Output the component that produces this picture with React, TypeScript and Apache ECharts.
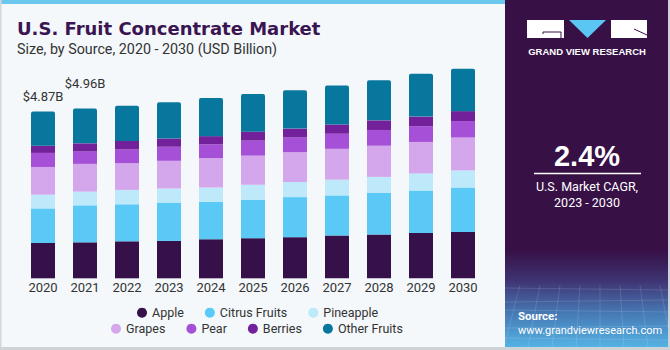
import React, { useEffect, useRef } from 'react';
import * as echarts from 'echarts';

const years = ['2020', '2021', '2022', '2023', '2024', '2025', '2026', '2027', '2028', '2029', '2030'];
const apple = [1.03, 1.05, 1.08, 1.09, 1.14, 1.17, 1.2, 1.25, 1.28, 1.32, 1.35];
const citrusFruits = [1.01, 1.08, 1.08, 1.12, 1.09, 1.12, 1.17, 1.17, 1.21, 1.24, 1.3];
const pineapple = [0.4, 0.4, 0.42, 0.41, 0.42, 0.44, 0.44, 0.46, 0.47, 0.5, 0.5];
const grapes = [0.81, 0.81, 0.78, 0.81, 0.86, 0.85, 0.87, 0.9, 0.91, 0.92, 0.96];
const pear = [0.41, 0.36, 0.4, 0.41, 0.4, 0.44, 0.43, 0.44, 0.46, 0.46, 0.48];
const berries = [0.21, 0.24, 0.25, 0.24, 0.24, 0.26, 0.26, 0.27, 0.28, 0.28, 0.29];
const otherFruits = [1.0, 1.02, 1.03, 1.06, 1.11, 1.1, 1.12, 1.14, 1.17, 1.25, 1.24];
const totalLabels = ['$4.87B', '$4.96B'];
const labelGaps = [8, 18];

const seriesDefs = [
  { name: 'Apple', data: apple, color: '#361049' },
  { name: 'Citrus Fruits', data: citrusFruits, color: '#5bc9f6' },
  { name: 'Pineapple', data: pineapple, color: '#bde9fa' },
  { name: 'Grapes', data: grapes, color: '#d4a7ed' },
  { name: 'Pear', data: pear, color: '#a64fd7' },
  { name: 'Berries', data: berries, color: '#73209b' },
  { name: 'Other Fruits', data: otherFruits, color: '#08779d' },
];

const FONT = 'Roboto, "Liberation Sans", Arial, sans-serif';

export default function App() {
  const ref = useRef<HTMLDivElement>(null);
  useEffect(() => {
    if (!ref.current) return;
    const chart = echarts.init(ref.current, undefined, { renderer: 'svg' });
    const last = seriesDefs.length - 1;
    const series = seriesDefs.map((s, si) => ({
      name: s.name,
      type: 'bar',
      stack: 'total',
      barWidth: 24,
      itemStyle: { color: s.color, borderRadius: si === last ? [2, 2, 0, 0] : 0 },
      data: s.data.map((v, i) => {
        if (si === last && i < totalLabels.length) {
          return {
            value: v,
            label: {
              show: true,
              position: 'top',
              distance: labelGaps[i],
              formatter: totalLabels[i],
              color: '#333333',
              fontSize: 13,
              fontFamily: FONT,
            },
          };
        }
        return v;
      }),
      z: 2,
    }));

    const legendCommon = {
      icon: 'circle',
      itemWidth: 10,
      itemHeight: 10,
      itemGap: 21,
      padding: 0,
      selectedMode: false,
      textStyle: { color: '#333333', fontSize: 12.5, fontFamily: FONT, lineHeight: 14 },
    };

    const option: any = {
      animation: false,
      backgroundColor: '#f4f8fb',
      grid: { left: 22, right: 186, top: 38.5, bottom: 71.7 },
      xAxis: {
        type: 'category',
        data: years,
        axisLine: { show: false },
        axisTick: { show: false },
        axisLabel: { color: '#333333', fontSize: 13, fontFamily: FONT, margin: 3 },
      },
      yAxis: { type: 'value', min: 0, max: 7, show: false },
      legend: [
        { ...legendCommon, left: 137, top: 305.7, data: ['Apple', 'Citrus Fruits', 'Pineapple'] },
        { ...legendCommon, left: 111, top: 321.7, data: ['Grapes', 'Pear', 'Berries', 'Other Fruits'] },
      ],
      series,
      graphic: [
        // frame
        { type: 'rect', shape: { x: 0, y: 0, width: 505, height: 4 }, style: { fill: '#6cc7ee' }, z: 10 },
        { type: 'rect', shape: { x: 0, y: 0, width: 1.5, height: 350 }, style: { fill: '#d3d6da' }, z: 10 },
        { type: 'rect', shape: { x: 0, y: 347, width: 670, height: 3 }, style: { fill: '#cfd2d6' }, z: 10 },
        { type: 'rect', shape: { x: 668, y: 0, width: 2, height: 350 }, style: { fill: '#cfd2d6' }, z: 10 },
        // right panel
        { type: 'rect', shape: { x: 505, y: 0, width: 163, height: 347 }, style: { fill: '#371046' }, z: 5 },
        {
          type: 'rect',
          shape: { x: 505, y: 250, width: 163, height: 97 },
          style: {
            fill: new echarts.graphic.LinearGradient(0, 0, 0, 1, [
              { offset: 0, color: '#371046' },
              { offset: 0.32, color: '#3f3473' },
              { offset: 0.65, color: '#4679b5' },
              { offset: 1, color: '#55b2e3' },
            ]),
          },
          z: 6,
        },
        ...[290, 300, 312, 326, 340].map((y, k) => ({
          type: 'line',
          shape: { x1: 505, y1: y + (k % 2 ? 2 : -2), x2: 668, y2: y },
          style: { stroke: 'rgba(255,255,255,0.13)', lineWidth: 1 },
          z: 7,
        })),
        ...[520, 540, 560, 580, 600, 620, 640, 660].map((x, k) => ({
          type: 'line',
          shape: { x1: x, y1: 285, x2: x + (k - 4) * 4, y2: 347 },
          style: { stroke: 'rgba(255,255,255,0.12)', lineWidth: 1 },
          z: 7,
        })),
        // logo
        { type: 'rect', shape: { x: 527, y: 20, width: 37, height: 18 }, style: { fill: '#ffffff' }, z: 8 },
        { type: 'polyline', shape: { points: [[543, 34], [543, 32], [561, 32], [561, 38]] }, style: { stroke: '#371046', lineWidth: 1, fill: 'none' }, z: 9 },
        { type: 'polygon', shape: { points: [[569, 20], [606, 20], [587.5, 38]] }, style: { fill: '#5bc6f3' }, z: 8 },
        { type: 'rect', shape: { x: 611, y: 20, width: 36, height: 18 }, style: { fill: '#ffffff' }, z: 8 },
        { type: 'line', shape: { x1: 634, y1: 29, x2: 647, y2: 35 }, style: { stroke: '#371046', lineWidth: 1 }, z: 9 },
        {
          type: 'text', x: 587, y: 51, z: 9,
          style: { text: 'GRAND VIEW RESEARCH', fill: '#ffffff', font: 'bold 9.5px "Liberation Sans", Arial, sans-serif', align: 'center', verticalAlign: 'middle' },
        },
        // CAGR
        {
          type: 'text', x: 587, y: 156, z: 9,
          style: { text: '2.4%', fill: '#ffffff', font: 'bold 29px "Liberation Sans", Arial, sans-serif', align: 'center', verticalAlign: 'middle' },
        },
        { type: 'line', shape: { x1: 534, y1: 173.5, x2: 641, y2: 173.5 }, style: { stroke: '#ffffff', lineWidth: 1.5 }, z: 9 },
        {
          type: 'text', x: 587, y: 186, z: 9,
          style: { text: 'U.S. Market CAGR,', fill: '#ffffff', font: '12.5px Roboto, "Liberation Sans", Arial, sans-serif', align: 'center', verticalAlign: 'middle' },
        },
        {
          type: 'text', x: 587, y: 202, z: 9,
          style: { text: '2023 - 2030', fill: '#ffffff', font: '12.5px Roboto, "Liberation Sans", Arial, sans-serif', align: 'center', verticalAlign: 'middle' },
        },
        // source
        {
          type: 'text', x: 518, y: 316, z: 9,
          style: { text: 'Source:', fill: '#ffffff', font: 'bold 11.5px Roboto, "Liberation Sans", Arial, sans-serif', align: 'left', verticalAlign: 'middle' },
        },
        {
          type: 'text', x: 518, y: 330, z: 9,
          style: { text: 'www.grandviewresearch.com', fill: '#ffffff', font: '11px Roboto, "Liberation Sans", Arial, sans-serif', align: 'left', verticalAlign: 'middle' },
        },
        // titles
        {
          type: 'text', x: 17, y: 28.5, z: 9,
          style: { text: 'U.S. Fruit Concentrate Market', fill: '#3a1552', font: 'bold 18px "DejaVu Sans", "Liberation Sans", Arial, sans-serif', align: 'left', verticalAlign: 'middle' },
        },
        {
          type: 'text', x: 17, y: 49, z: 9,
          style: { text: 'Size, by Source, 2020 - 2030 (USD Billion)', fill: '#333333', font: '14.3px Roboto, "Liberation Sans", Arial, sans-serif', align: 'left', verticalAlign: 'middle' },
        },
      ],
    };
    chart.setOption(option);
    return () => chart.dispose();
  }, []);
  return (
    <div
      ref={ref}
      style={{ position: 'fixed', left: 0, top: 0, width: 670, height: 350 }}
    />
  );
}
